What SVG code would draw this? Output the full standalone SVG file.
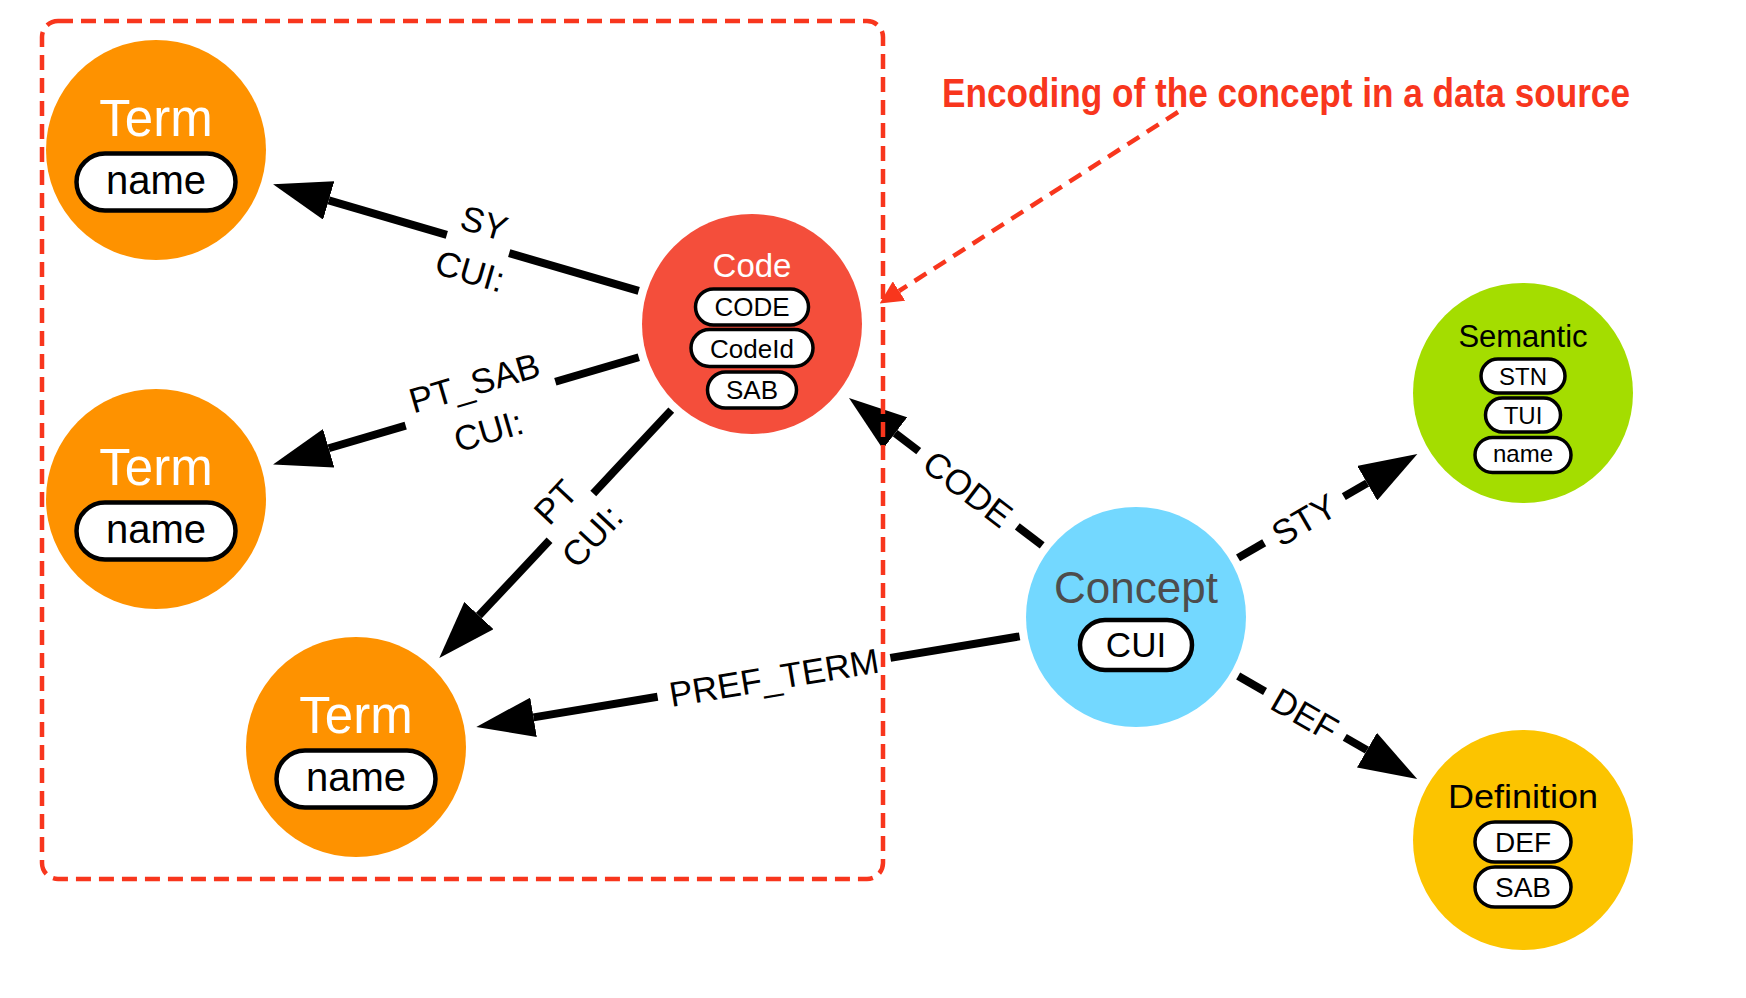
<svg xmlns="http://www.w3.org/2000/svg" width="1746" height="998" viewBox="0 0 1746 998">
<style>
text{font-family:"Liberation Sans",Arial,Helvetica,sans-serif;text-anchor:middle}
.edge{stroke:#000;stroke-width:8;fill:none}
.lbl{font-size:35px;fill:#000}
.pill{fill:#fff;stroke:#000;stroke-width:3.5}
.bigpill{fill:#fff;stroke:#000;stroke-width:4.5}
.term{fill:#fe9200}
.ttl{font-size:51px;fill:#fff}
.pt{font-size:26px;fill:#000}
.red{stroke:#f8361d;stroke-width:4.5;fill:none}
</style>
<defs>
<marker id="ah" viewBox="0 -2.5 7.25 5" refX="0" refY="0" markerWidth="7.25" markerHeight="5" markerUnits="strokeWidth" orient="auto">
<path d="M0,-2.5 L7.25,0 L0,2.5 Z" fill="#000"/>
</marker>
<marker id="rah" viewBox="0 -2.55 5.1 5.1" refX="0" refY="0" markerWidth="5.1" markerHeight="5.1" markerUnits="strokeWidth" orient="auto">
<path d="M0,-2.55 L5.1,0 L0,2.55 Z" fill="#f8361d"/>
</marker>
</defs>
<rect width="1746" height="998" fill="#fff"/>

<g id="connectors">
<g id="e-sy" transform="translate(478,244) rotate(16.27)">
<line class="edge" x1="167.4" y1="0" x2="32.5" y2="0"/>
<line class="edge" x1="-32.5" y1="0" x2="-155.5" y2="0" marker-end="url(#ah)"/>
<text class="lbl" x="0" y="-9.5">SY</text>
<text class="lbl" x="0" y="40.5">CUI:</text>
</g>
<g id="e-ptsab" transform="translate(480.5,403.7) rotate(-16.36)">
<line class="edge" x1="165" y1="0" x2="78" y2="0"/>
<line class="edge" x1="-78" y1="0" x2="-158.2" y2="0" marker-end="url(#ah)"/>
<text class="lbl" x="0" y="-9.5">PT_SAB</text>
<text class="lbl" x="0" y="40.5">CUI:</text>
</g>
<g id="e-pt" transform="translate(571.4,516.8) rotate(-46.89)">
<line class="edge" x1="146.1" y1="0" x2="32" y2="0"/>
<line class="edge" x1="-32" y1="0" x2="-135.3" y2="0" marker-end="url(#ah)"/>
<text class="lbl" x="0" y="-9.5">PT</text>
<text class="lbl" x="0" y="40.5">CUI:</text>
</g>
<g id="e-prefterm" transform="translate(774,677.3) rotate(-9.46)">
<line class="edge" x1="249" y1="0" x2="118" y2="0"/>
<line class="edge" x1="-118" y1="0" x2="-243.8" y2="0" marker-end="url(#ah)"/>
<text class="lbl" x="0" y="12.5">PREF_TERM</text>
</g>
<g id="e-code" transform="translate(968,488.8) rotate(37.34)">
<line class="edge" x1="93.3" y1="0" x2="62" y2="0"/>
<line class="edge" x1="-62" y1="0" x2="-91.7" y2="0" marker-end="url(#ah)"/>
<text class="lbl" x="0" y="12.5">CODE</text>
</g>
<g id="e-sty" transform="translate(1304,519.7) rotate(-30.06)">
<line class="edge" x1="-76.2" y1="0" x2="-46" y2="0"/>
<line class="edge" x1="46" y1="0" x2="73" y2="0" marker-end="url(#ah)"/>
<text class="lbl" x="0" y="12.5">STY</text>
</g>
<g id="e-def" transform="translate(1304.9,714.4) rotate(29.95)">
<line class="edge" x1="-77" y1="0" x2="-46" y2="0"/>
<line class="edge" x1="46" y1="0" x2="71.6" y2="0" marker-end="url(#ah)"/>
<text class="lbl" x="0" y="12.5">DEF</text>
</g>
</g>

<g id="term1">
<circle class="term" cx="156" cy="150" r="110"/>
<text class="ttl" x="156" y="136">Term</text>
<rect class="bigpill" x="76.5" y="153.5" width="159" height="57" rx="28.5"/>
<text x="156" y="194" font-size="40">name</text>
</g>
<g id="term2">
<circle class="term" cx="156" cy="499" r="110"/>
<text class="ttl" x="156" y="485">Term</text>
<rect class="bigpill" x="76.5" y="502.5" width="159" height="57" rx="28.5"/>
<text x="156" y="543" font-size="40">name</text>
</g>
<g id="term3">
<circle class="term" cx="356" cy="747" r="110"/>
<text class="ttl" x="356" y="733">Term</text>
<rect class="bigpill" x="276.5" y="750.5" width="159" height="57" rx="28.5"/>
<text x="356" y="791" font-size="40">name</text>
</g>

<g id="code">
<circle cx="752" cy="324" r="110" fill="#f44e3b"/>
<text x="752" y="277" font-size="33" fill="#fff">Code</text>
<rect class="pill" x="695.5" y="289" width="113" height="36" rx="18"/>
<text class="pt" x="752" y="316">CODE</text>
<rect class="pill" x="691" y="329.5" width="122" height="37" rx="18.5"/>
<text class="pt" x="752" y="357.5">CodeId</text>
<rect class="pill" x="707.5" y="372" width="89" height="36" rx="18"/>
<text class="pt" x="752" y="399">SAB</text>
</g>

<g id="concept">
<circle cx="1136" cy="617" r="110" fill="#73d8ff"/>
<text x="1136" y="603" font-size="44" fill="#4d4d4d">Concept</text>
<rect class="bigpill" x="1080" y="620" width="112" height="50" rx="25"/>
<text x="1136" y="657" font-size="35">CUI</text>
</g>

<g id="semantic">
<circle cx="1523" cy="393" r="110" fill="#a4dd00"/>
<text x="1523" y="347" font-size="31" fill="#000">Semantic</text>
<rect class="pill" x="1481" y="359" width="84" height="34" rx="17"/>
<text x="1523" y="385" font-size="24">STN</text>
<rect class="pill" x="1485.5" y="398" width="75" height="34" rx="17"/>
<text x="1523" y="424" font-size="24">TUI</text>
<rect class="pill" x="1475" y="437.5" width="96" height="35" rx="17.5"/>
<text x="1523" y="462" font-size="24">name</text>
</g>

<g id="definition">
<circle cx="1523" cy="840" r="110" fill="#fcc400"/>
<text x="1523" y="808" font-size="34" fill="#000" textLength="150" lengthAdjust="spacingAndGlyphs">Definition</text>
<rect class="pill" x="1475" y="822" width="96" height="40" rx="20"/>
<text x="1523" y="852" font-size="28">DEF</text>
<rect class="pill" x="1475" y="867" width="96" height="40" rx="20"/>
<text x="1523" y="897" font-size="28">SAB</text>
</g>

<g id="annotation">
<rect class="red" x="42" y="21" width="841" height="858" rx="16" stroke-dasharray="15 8"/>
<text x="942" y="107" font-size="40" font-weight="bold" fill="#f8361d" style="text-anchor:start" textLength="688" lengthAdjust="spacingAndGlyphs">Encoding of the concept in a data source</text>
<line class="red" x1="1178" y1="112" x2="899" y2="291" stroke-dasharray="14 9" marker-end="url(#rah)"/>
</g>
</svg>
